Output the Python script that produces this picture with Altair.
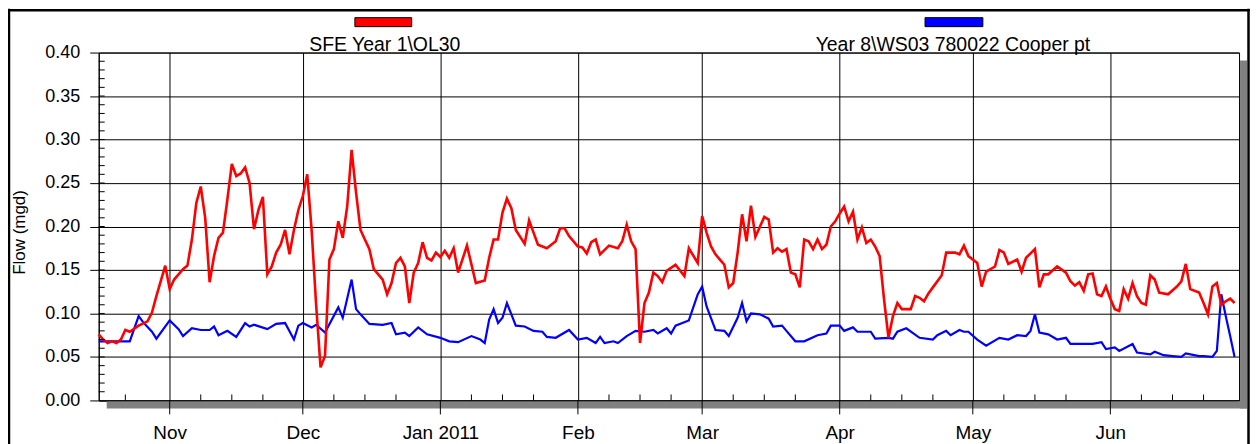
import altair as alt
import pandas as pd

# ---------------- data ----------------
red_name = "SFE Year 1\\OL30"
blue_name = "Year 8\\WS03 780022 Cooper pt"

red_dates = [
    "2010-10-16", "2010-10-17", "2010-10-18", "2010-10-19", "2010-10-20", "2010-10-21", "2010-10-22",
    "2010-10-23", "2010-10-25", "2010-10-27", "2010-10-28", "2010-10-29", "2010-10-31", "2010-11-01",
    "2010-11-02", "2010-11-03", "2010-11-04", "2010-11-05", "2010-11-06", "2010-11-07", "2010-11-08",
    "2010-11-09", "2010-11-10", "2010-11-11", "2010-11-12", "2010-11-13", "2010-11-14", "2010-11-15",
    "2010-11-16", "2010-11-17", "2010-11-18", "2010-11-19", "2010-11-20", "2010-11-21", "2010-11-22",
    "2010-11-23", "2010-11-24", "2010-11-25", "2010-11-26", "2010-11-27", "2010-11-28", "2010-11-29",
    "2010-11-30", "2010-12-01", "2010-12-02", "2010-12-03", "2010-12-04", "2010-12-05", "2010-12-06",
    "2010-12-07", "2010-12-08", "2010-12-09", "2010-12-10", "2010-12-11", "2010-12-12", "2010-12-13",
    "2010-12-14", "2010-12-16", "2010-12-17", "2010-12-19", "2010-12-20", "2010-12-21", "2010-12-22",
    "2010-12-23", "2010-12-24", "2010-12-25", "2010-12-26", "2010-12-27", "2010-12-28", "2010-12-29",
    "2010-12-30", "2010-12-31", "2011-01-01", "2011-01-02", "2011-01-03", "2011-01-04", "2011-01-05",
    "2011-01-07", "2011-01-09", "2011-01-11", "2011-01-12", "2011-01-13", "2011-01-14", "2011-01-15",
    "2011-01-16", "2011-01-17", "2011-01-18", "2011-01-20", "2011-01-21", "2011-01-22", "2011-01-23",
    "2011-01-25", "2011-01-27", "2011-01-28", "2011-01-29", "2011-01-30", "2011-02-01", "2011-02-02",
    "2011-02-03", "2011-02-04", "2011-02-05", "2011-02-06", "2011-02-08", "2011-02-10", "2011-02-11",
    "2011-02-12", "2011-02-13", "2011-02-14", "2011-02-15", "2011-02-16", "2011-02-17", "2011-02-18",
    "2011-02-19", "2011-02-20", "2011-02-21", "2011-02-23", "2011-02-25", "2011-02-26", "2011-02-28",
    "2011-03-01", "2011-03-02", "2011-03-03", "2011-03-04", "2011-03-05", "2011-03-06", "2011-03-07",
    "2011-03-08", "2011-03-09", "2011-03-10", "2011-03-11", "2011-03-12", "2011-03-13", "2011-03-15",
    "2011-03-16", "2011-03-17", "2011-03-18", "2011-03-19", "2011-03-20", "2011-03-21", "2011-03-22",
    "2011-03-23", "2011-03-24", "2011-03-25", "2011-03-26", "2011-03-27", "2011-03-28", "2011-03-29",
    "2011-03-30", "2011-03-31", "2011-04-01", "2011-04-02", "2011-04-03", "2011-04-04", "2011-04-05",
    "2011-04-06", "2011-04-07", "2011-04-08", "2011-04-09", "2011-04-10", "2011-04-11", "2011-04-12",
    "2011-04-13", "2011-04-14", "2011-04-15", "2011-04-17", "2011-04-18", "2011-04-19", "2011-04-20",
    "2011-04-21", "2011-04-22", "2011-04-24", "2011-04-25", "2011-04-26", "2011-04-27", "2011-04-28",
    "2011-04-29", "2011-04-30", "2011-05-02", "2011-05-03", "2011-05-04", "2011-05-06", "2011-05-07",
    "2011-05-08", "2011-05-09", "2011-05-11", "2011-05-12", "2011-05-13", "2011-05-15", "2011-05-16",
    "2011-05-17", "2011-05-18", "2011-05-20", "2011-05-22", "2011-05-23", "2011-05-24", "2011-05-25",
    "2011-05-26", "2011-05-27", "2011-05-28", "2011-05-29", "2011-05-30", "2011-05-31", "2011-06-01",
    "2011-06-02", "2011-06-03", "2011-06-04", "2011-06-05", "2011-06-06", "2011-06-07", "2011-06-08",
    "2011-06-09", "2011-06-10", "2011-06-11", "2011-06-12", "2011-06-14", "2011-06-16", "2011-06-17",
    "2011-06-18", "2011-06-19", "2011-06-21", "2011-06-22", "2011-06-23", "2011-06-24", "2011-06-25",
    "2011-06-26", "2011-06-27", "2011-06-28", "2011-06-29",
]
red_values = [
    0.076, 0.070, 0.066, 0.068, 0.066, 0.070, 0.081,
    0.079, 0.086, 0.091, 0.101, 0.120, 0.155, 0.128,
    0.139, 0.145, 0.151, 0.155, 0.185, 0.227, 0.246,
    0.210, 0.136, 0.166, 0.187, 0.193, 0.231, 0.272,
    0.258, 0.261, 0.268, 0.250, 0.197, 0.219, 0.234,
    0.145, 0.154, 0.170, 0.179, 0.196, 0.168, 0.196,
    0.219, 0.235, 0.260, 0.195, 0.110, 0.038, 0.051,
    0.162, 0.174, 0.206, 0.187, 0.223, 0.288, 0.239,
    0.196, 0.174, 0.151, 0.139, 0.122, 0.135, 0.158,
    0.164, 0.154, 0.112, 0.147, 0.158, 0.182, 0.164,
    0.161, 0.170, 0.165, 0.172, 0.164, 0.175, 0.147,
    0.178, 0.135, 0.138, 0.164, 0.185, 0.185, 0.216,
    0.232, 0.221, 0.196, 0.180, 0.207, 0.193, 0.179,
    0.175, 0.183, 0.198, 0.198, 0.189, 0.177, 0.176,
    0.169, 0.182, 0.185, 0.168, 0.178, 0.175, 0.183,
    0.202, 0.183, 0.174, 0.066, 0.112, 0.124, 0.147,
    0.143, 0.136, 0.149, 0.156, 0.143, 0.175, 0.158,
    0.212, 0.193, 0.177, 0.168, 0.162, 0.156, 0.130,
    0.135, 0.170, 0.214, 0.183, 0.224, 0.188, 0.211,
    0.208, 0.170, 0.175, 0.171, 0.174, 0.147, 0.145,
    0.130, 0.185, 0.183, 0.174, 0.185, 0.174, 0.179,
    0.200, 0.206, 0.215, 0.223, 0.206, 0.217, 0.185,
    0.199, 0.181, 0.185, 0.177, 0.166, 0.116, 0.072,
    0.097, 0.112, 0.105, 0.105, 0.120, 0.118, 0.114,
    0.123, 0.130, 0.144, 0.170, 0.170, 0.170, 0.168,
    0.178, 0.166, 0.158, 0.131, 0.148, 0.154, 0.173,
    0.170, 0.157, 0.162, 0.148, 0.164, 0.174, 0.130,
    0.145, 0.145, 0.154, 0.147, 0.137, 0.132, 0.136,
    0.126, 0.145, 0.146, 0.122, 0.120, 0.131, 0.117,
    0.105, 0.103, 0.128, 0.117, 0.135, 0.120, 0.112,
    0.110, 0.144, 0.139, 0.124, 0.122, 0.131, 0.137,
    0.157, 0.128, 0.124, 0.112, 0.099, 0.131, 0.135,
    0.110, 0.114, 0.117, 0.112,
]

blue_dates = [
    "2010-10-16", "2010-10-23", "2010-10-25", "2010-10-26", "2010-10-28", "2010-10-29", "2010-11-01",
    "2010-11-03", "2010-11-04", "2010-11-06", "2010-11-08", "2010-11-10", "2010-11-11", "2010-11-12",
    "2010-11-14", "2010-11-16", "2010-11-18", "2010-11-19", "2010-11-20", "2010-11-23", "2010-11-25",
    "2010-11-27", "2010-11-29", "2010-11-30", "2010-12-01", "2010-12-03", "2010-12-04", "2010-12-06",
    "2010-12-09", "2010-12-10", "2010-12-12", "2010-12-13", "2010-12-14", "2010-12-16", "2010-12-19",
    "2010-12-21", "2010-12-22", "2010-12-24", "2010-12-25", "2010-12-27", "2010-12-29", "2011-01-01",
    "2011-01-03", "2011-01-05", "2011-01-08", "2011-01-10", "2011-01-11", "2011-01-12", "2011-01-13",
    "2011-01-14", "2011-01-15", "2011-01-16", "2011-01-18", "2011-01-20", "2011-01-22", "2011-01-24",
    "2011-01-25", "2011-01-27", "2011-01-30", "2011-02-01", "2011-02-03", "2011-02-05", "2011-02-06",
    "2011-02-07", "2011-02-09", "2011-02-10", "2011-02-12", "2011-02-14", "2011-02-16", "2011-02-18",
    "2011-02-19", "2011-02-21", "2011-02-22", "2011-02-23", "2011-02-26", "2011-02-27", "2011-02-28",
    "2011-03-01", "2011-03-02", "2011-03-04", "2011-03-06", "2011-03-07", "2011-03-09", "2011-03-10",
    "2011-03-11", "2011-03-12", "2011-03-14", "2011-03-16", "2011-03-17", "2011-03-19", "2011-03-20",
    "2011-03-22", "2011-03-24", "2011-03-27", "2011-03-29", "2011-03-30", "2011-04-01", "2011-04-02",
    "2011-04-04", "2011-04-05", "2011-04-08", "2011-04-09", "2011-04-12", "2011-04-13", "2011-04-14",
    "2011-04-16", "2011-04-19", "2011-04-22", "2011-04-23", "2011-04-25", "2011-04-26", "2011-04-28",
    "2011-04-29", "2011-04-30", "2011-05-02", "2011-05-04", "2011-05-07", "2011-05-09", "2011-05-11",
    "2011-05-13", "2011-05-14", "2011-05-15", "2011-05-16", "2011-05-18", "2011-05-20", "2011-05-22",
    "2011-05-23", "2011-05-28", "2011-05-30", "2011-05-31", "2011-06-02", "2011-06-03", "2011-06-06",
    "2011-06-07", "2011-06-10", "2011-06-11", "2011-06-13", "2011-06-15", "2011-06-17", "2011-06-18",
    "2011-06-21", "2011-06-22", "2011-06-24", "2011-06-25", "2011-06-26", "2011-06-27", "2011-06-28",
    "2011-06-29",
]
blue_values = [
    0.068, 0.068, 0.097, 0.090, 0.079, 0.071, 0.092,
    0.082, 0.074, 0.083, 0.081, 0.081, 0.085, 0.075,
    0.080, 0.073, 0.089, 0.085, 0.087, 0.082, 0.088,
    0.089, 0.070, 0.086, 0.089, 0.084, 0.087, 0.078,
    0.107, 0.095, 0.139, 0.105, 0.099, 0.088, 0.087,
    0.089, 0.076, 0.078, 0.074, 0.084, 0.076, 0.072,
    0.068, 0.067, 0.074, 0.070, 0.066, 0.093, 0.105,
    0.089, 0.095, 0.112, 0.086, 0.085, 0.080, 0.079,
    0.073, 0.072, 0.081, 0.070, 0.072, 0.066, 0.073,
    0.066, 0.068, 0.066, 0.074, 0.080, 0.079, 0.081,
    0.077, 0.083, 0.077, 0.086, 0.092, 0.107, 0.122,
    0.131, 0.108, 0.081, 0.080, 0.074, 0.095, 0.112,
    0.091, 0.100, 0.099, 0.094, 0.085, 0.086, 0.080,
    0.068, 0.068, 0.075, 0.077, 0.086, 0.086, 0.080,
    0.084, 0.079, 0.079, 0.071, 0.072, 0.071, 0.079,
    0.083, 0.072, 0.070, 0.075, 0.080, 0.075, 0.081,
    0.079, 0.079, 0.070, 0.063, 0.072, 0.070, 0.075,
    0.074, 0.080, 0.099, 0.078, 0.076, 0.070, 0.072,
    0.065, 0.065, 0.067, 0.059, 0.061, 0.057, 0.065,
    0.055, 0.053, 0.056, 0.052, 0.051, 0.050, 0.054,
    0.051, 0.051, 0.050, 0.057, 0.122, 0.097, 0.074,
    0.050,
]

y_tick_values = [0.00, 0.05, 0.10, 0.15, 0.20, 0.25, 0.30, 0.35, 0.40]
y_minor_values = [i / 100 for i in range(1, 40)]
month_starts = ["2010-11-01", "2010-12-01", "2011-01-01", "2011-02-01", "2011-03-01",
                "2011-04-01", "2011-05-01", "2011-06-01"]
week_ticks = ["2010-10-22"] + [m[:8] + d for m in month_starts for d in ("08", "15", "22")]

# ---------------- layout constants ----------------
W, H = 1144, 349
FONT = "Liberation Sans"

red_df = pd.DataFrame({"date": pd.to_datetime(red_dates), "value": red_values})
blue_df = pd.DataFrame({"date": pd.to_datetime(blue_dates), "value": blue_values})
month_df = pd.DataFrame({"date": pd.to_datetime(month_starts)})
week_df = pd.DataFrame({"date": pd.to_datetime(week_ticks)})
yminor_df = pd.DataFrame({"value": y_minor_values})
one = pd.DataFrame({"k": [0]})

x_scale = alt.Scale(domain=[alt.DateTime(year=2010, month=10, date=16),
                            alt.DateTime(year=2011, month=6, date=30)], nice=False)
y_scale = alt.Scale(domain=[0, 0.4], nice=False, zero=True)

x_axis = alt.Axis(
    values=[alt.DateTime(year=int(m[:4]), month=int(m[5:7]), date=1) for m in month_starts],
    labelExpr="month(datum.value) == 0 ? timeFormat(datum.value, '%b %Y') : timeFormat(datum.value, '%b')",
    grid=True, gridColor="#000000", gridWidth=1, gridOpacity=1,
    ticks=False, domainColor="#000000", domainWidth=1,
    labelPadding=23, labelFontSize=19, labelFont=FONT, labelColor="#000000",
    labelFlush=False, labelOverlap=False, title=None,
)
y_axis = alt.Axis(
    values=y_tick_values, format=".2f",
    grid=True, gridColor="#000000", gridWidth=1, gridOpacity=1,
    tickSize=9, tickColor="#000000", domainColor="#000000",
    labelPadding=10, labelFontSize=18, labelFont=FONT, labelColor="#000000",
    labelFlush=False,
    title="Flow (mgd)", titleFont=FONT, titleFontSize=17, titleFontWeight="normal",
    titleColor="#000000", titleAngle=270, titleBaseline="bottom", titleAlign="center",
    titleX=-70, titleY=180,
)

blue_line = alt.Chart(blue_df).mark_line(color="#0000FF", strokeWidth=2.2).encode(
    x=alt.X("date:T", scale=x_scale, axis=x_axis),
    y=alt.Y("value:Q", scale=y_scale, axis=y_axis),
)
red_line = alt.Chart(red_df).mark_line(color="#FF0000", strokeWidth=2.6).encode(
    x=alt.X("date:T"),
    y=alt.Y("value:Q"),
)

# axis decorations driven by the scales
month_ticks = alt.Chart(month_df).mark_rule(color="#000000", strokeWidth=1).encode(
    x=alt.X("date:T"), y=alt.value(H), y2=alt.value(H + 14))
week_ticks_layer = alt.Chart(week_df).mark_rule(color="#000000", strokeWidth=1).encode(
    x=alt.X("date:T"), y=alt.value(H - 6), y2=alt.value(H))
y_minor = alt.Chart(yminor_df).mark_rule(color="#000000", strokeWidth=1).encode(
    y=alt.Y("value:Q"), x=alt.value(0), x2=alt.value(6))

# drop shadow of the plot frame
shadow_bottom = alt.Chart(one).mark_rect(color="#808080").encode(
    x=alt.value(8), x2=alt.value(W + 8), y=alt.value(H + 1), y2=alt.value(H + 8))
shadow_right = alt.Chart(one).mark_rect(color="#808080").encode(
    x=alt.value(W + 1), x2=alt.value(W + 8), y=alt.value(8), y2=alt.value(H + 8))

# outer frame (left, top, right)
frame_left = alt.Chart(one).mark_rule(color="#000000", strokeWidth=2.5).encode(
    x=alt.value(-90), y=alt.value(-44), y2=alt.value(H + 60))
frame_top = alt.Chart(one).mark_rule(color="#000000", strokeWidth=2.5).encode(
    x=alt.value(-91), x2=alt.value(W + 11), y=alt.value(-42.5))
frame_right = alt.Chart(one).mark_rule(color="#000000", strokeWidth=2.5).encode(
    x=alt.value(W + 9.5), y=alt.value(-44), y2=alt.value(H + 60))

# legend swatches and labels
red_swatch = alt.Chart(one).mark_rect(color="#FF0000", stroke="#000000", strokeWidth=1).encode(
    x=alt.value(257), x2=alt.value(314), y=alt.value(-35), y2=alt.value(-26))
blue_swatch = alt.Chart(one).mark_rect(color="#0000FF", stroke="#000000", strokeWidth=1).encode(
    x=alt.value(829), x2=alt.value(887), y=alt.value(-35), y2=alt.value(-26))
red_label = alt.Chart(one).mark_text(
    text=red_name, font=FONT, fontSize=19.5, color="#000000", align="center", baseline="alphabetic"
).encode(x=alt.value(287), y=alt.value(-2))
blue_label = alt.Chart(one).mark_text(
    text=blue_name, font=FONT, fontSize=19.5, color="#000000", align="center", baseline="alphabetic"
).encode(x=alt.value(857), y=alt.value(-2))

chart = alt.layer(
    shadow_bottom, shadow_right, frame_left, frame_top, frame_right,
    red_swatch, blue_swatch, red_label, blue_label,
    blue_line, red_line, month_ticks, week_ticks_layer, y_minor,
).properties(
    width=W, height=H,
    autosize=alt.AutoSizeParams(type="none"),
    padding={"left": 91, "top": 44, "right": 11, "bottom": 43},
    background="#FFFFFF",
).configure_view(stroke="#000000", strokeWidth=1)

chart.save("out.html", embed_options={"renderer": "svg", "actions": False})
